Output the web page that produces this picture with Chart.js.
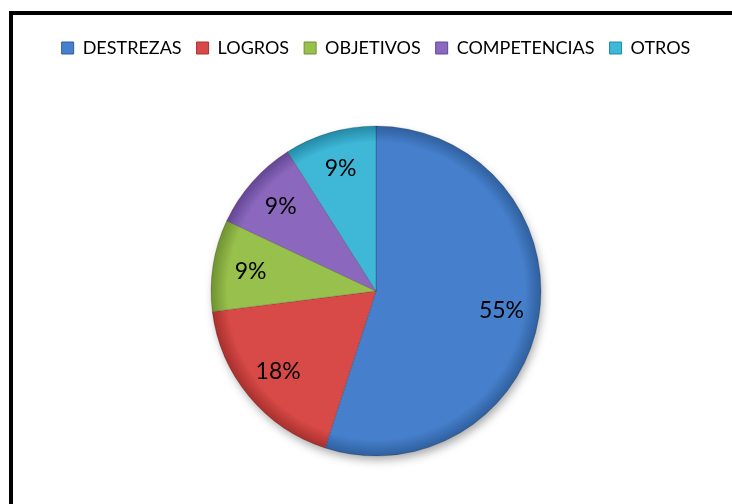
<!DOCTYPE html>
<html>
<head>
<meta charset="utf-8">
<script src="https://cdn.jsdelivr.net/npm/chart.js@4"></script>
<style>
  html, body { margin: 0; padding: 0; background: #fff; overflow: hidden; }
  body { width: 732px; height: 504px; position: relative; }
  #frame {
    position: absolute; left: 9px; top: 11px; width: 800px; height: 600px;
    border-left: 4px solid #000; border-top: 4px solid #000;
  }
  #wrap { position: absolute; left: 0; top: 0; width: 752px; height: 540px; }
</style>
</head>
<body>
<div id="frame"></div>
<div id="wrap"><canvas id="myChart"></canvas></div>
<script>
// categorias y porcentajes
const labels = ["DESTREZAS", "LOGROS", "OBJETIVOS", "COMPETENCIAS", "OTROS"];
const values = [55, 18, 9, 9, 9];
const colors = ["#4680cc", "#d84a47", "#98c04c", "#8b68bd", "#3fb8d8"];
const edgeColors = ["#2f5f9e", "#a8302d", "#6f9230", "#634694", "#2389a6"];

// sombra suave debajo del circulo
const pieShadow = {
  id: "pieShadow",
  beforeDatasetsDraw(chart) {
    const arc = chart.getDatasetMeta(0).data[0];
    if (!arc) return;
    const { x, y, outerRadius } = arc.getProps(["x", "y", "outerRadius"], true);
    const ctx = chart.ctx;
    ctx.save();
    ctx.shadowColor = "rgba(0,0,0,0.35)";
    ctx.shadowBlur = 10;
    ctx.shadowOffsetX = 2;
    ctx.shadowOffsetY = 5;
    ctx.fillStyle = "#fff";
    ctx.beginPath();
    ctx.arc(x, y, outerRadius - 1, 0, Math.PI * 2);
    ctx.fill();
    ctx.restore();
  },
};

// etiquetas de porcentaje dentro de cada porcion
const sliceLabels = {
  id: "sliceLabels",
  afterDatasetsDraw(chart) {
    const ctx = chart.ctx;
    const meta = chart.getDatasetMeta(0);
    ctx.save();
    ctx.font = "23px Lato";
    ctx.fillStyle = "#000";
    ctx.textAlign = "center";
    ctx.textBaseline = "middle";
    meta.data.forEach((arc, i) => {
      const p = arc.getProps(["x", "y", "startAngle", "endAngle", "outerRadius"], true);
      const mid = (p.startAngle + p.endAngle) / 2;
      const r = p.outerRadius * 0.77;
      ctx.fillText(values[i] + "%", p.x + Math.cos(mid) * r, p.y + Math.sin(mid) * r);
    });
    ctx.restore();
  },
};

function sliceFill(context) {
  const i = context.dataIndex;
  const chart = context.chart;
  const area = chart.chartArea;
  if (!area) return colors[i];
  const cx = (area.left + area.right) / 2;
  const cy = (area.top + area.bottom) / 2;
  const g = chart.ctx.createRadialGradient(cx, cy, 0, cx, cy, 165);
  g.addColorStop(0, colors[i]);
  g.addColorStop(0.9, colors[i]);
  g.addColorStop(1, edgeColors[i]);
  return g;
}

document.addEventListener("DOMContentLoaded", () => {
  const ctx = document.getElementById("myChart").getContext("2d");
  new Chart(ctx, {
    type: "pie",
    data: {
      labels: labels,
      datasets: [
        {
          data: values,
          backgroundColor: sliceFill,
          borderColor: "rgba(0,0,0,0.18)",
          borderWidth: 1,
        },
      ],
    },
    options: {
      responsive: true,
      maintainAspectRatio: false,
      animation: false,
      radius: 165,
      layout: { padding: { top: 24, bottom: 25, left: 0, right: 0 } },
      plugins: {
        legend: {
          position: "top",
          labels: {
            boxWidth: 12,
            boxHeight: 12,
            padding: 15,
            color: "#000",
            font: { family: "Lato", size: 18 },
            generateLabels(chart) {
              return labels.map((text, i) => ({
                text: text,
                fillStyle: colors[i],
                strokeStyle: edgeColors[i],
                lineWidth: 1,
                index: i,
                hidden: false,
              }));
            },
          },
        },
        tooltip: { enabled: false },
      },
    },
    plugins: [pieShadow, sliceLabels],
  });
});
</script>
</body>
</html>
